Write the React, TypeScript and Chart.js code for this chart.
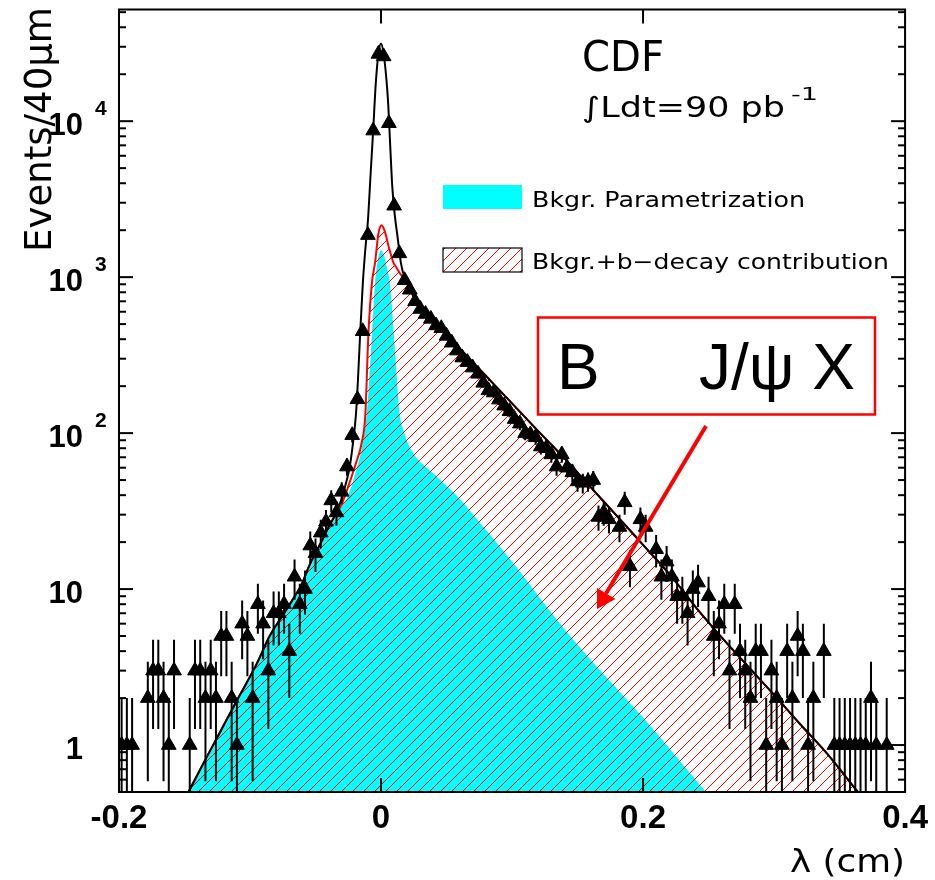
import React, { useEffect, useRef } from 'react';
import { Chart, registerables } from 'chart.js';

Chart.register(...registerables);

// ---------- Axis ticks ----------
const xTickValues = [-0.2, 0, 0.2, 0.4];
const xTickLabels = ['-0.2', '0', '0.2', '0.4'];
const yTickValues = [1, 10, 100, 1000, 10000];
const yTickMantissa = ['1', '10', '10', '10', '10'];
const yTickExponent = ['', '', '2', '3', '4'];

// ---------- Texts ----------
const yTitle = 'Events/40\u03bcm';
const xTitle = '\u03bb (cm)';
const expLabel = 'CDF';
const lumiLabel = '\u222bLdt=90 pb';
const lumiExp = '-1';
const legendBkg = 'Bkgr. Parametrization';
const legendBkgB = 'Bkgr.+b\u2212decay contribution';
const boxLeft = 'B';
const boxRight = 'J/\u03c8 X';

// ---------- Data points: lambda (cm), events per 40 um ----------
const dataLambda = [
  -0.198, -0.194, -0.190, -0.178, -0.174, -0.170, -0.166, -0.162, -0.158,
  -0.146, -0.142, -0.138, -0.134, -0.130, -0.126, -0.122, -0.118, -0.114,
  -0.110, -0.106, -0.102, -0.098, -0.094, -0.090, -0.086, -0.082, -0.078,
  -0.074, -0.070, -0.066, -0.062, -0.058, -0.054, -0.050, -0.046, -0.042,
  -0.038, -0.034, -0.030, -0.026, -0.022, -0.018, -0.014, -0.010, -0.006,
  -0.002, 0.002, 0.006, 0.010, 0.014, 0.018, 0.022, 0.026, 0.030, 0.034,
  0.038, 0.042, 0.046, 0.050, 0.054, 0.058, 0.062, 0.066, 0.070, 0.074,
  0.078, 0.082, 0.086, 0.090, 0.094, 0.098, 0.102, 0.106, 0.110, 0.114,
  0.118, 0.122, 0.126, 0.130, 0.134, 0.138, 0.142, 0.146, 0.150, 0.154,
  0.158, 0.162, 0.166, 0.170, 0.174, 0.182, 0.186, 0.190, 0.198, 0.202,
  0.210, 0.214, 0.218, 0.222, 0.226, 0.230, 0.234, 0.238, 0.242, 0.250,
  0.254, 0.258, 0.262, 0.266, 0.270, 0.274, 0.278, 0.282, 0.286, 0.290,
  0.294, 0.298, 0.302, 0.306, 0.310, 0.314, 0.318, 0.322, 0.326, 0.330,
  0.338, 0.346, 0.350, 0.354, 0.358, 0.362, 0.366, 0.370, 0.374, 0.378,
  0.386,
];
const dataCounts = [
  1, 1, 1, 2, 3, 3, 2, 1, 3,
  1, 3, 3, 2, 3, 2, 5, 5, 2,
  1, 6, 5, 2, 8, 6, 3, 7, 7,
  8, 4, 12, 8, 10, 19, 17, 23, 27,
  37, 31, 42, 61, 97, 165, 450, 1860, 8700,
  27000, 26000, 9700, 2870, 1420, 955, 830, 700, 625, 580,
  540, 490, 470, 420, 380, 338, 305, 285, 263, 240,
  210, 188, 182, 164, 150, 138, 123, 115, 100, 98,
  94, 82, 80, 73, 61, 73, 60, 56, 49, 48,
  49, 50, 29, 31, 28, 25, 36, 14, 28, 25,
  18, 12, 15, 12, 9, 9, 7, 10, 11, 9,
  5, 6, 8, 3, 8, 4, 3, 2, 4, 4,
  1, 3, 2, 1, 4, 2, 5, 4, 1, 2,
  4, 1, 1, 1, 1, 1, 1, 1, 2, 1,
  1,
];

// ---------- Total fit (black line) ----------
const totalFitLambda = [
  -0.147, -0.135, -0.122, -0.110, -0.095, -0.085, -0.075, -0.068, -0.060,
  -0.055, -0.050, -0.045, -0.040, -0.035, -0.030, -0.027, -0.024, -0.0215,
  -0.0192, -0.0177, -0.0159, -0.0139, -0.012, -0.010, -0.008, -0.006, -0.004,
  -0.002, 0, 0.002, 0.004, 0.0055, 0.007, 0.0086, 0.0105, 0.0126, 0.0152,
  0.0177, 0.022, 0.026, 0.030, 0.040, 0.050, 0.060, 0.070, 0.080, 0.090,
  0.100, 0.120, 0.140, 0.160, 0.180, 0.200, 0.220, 0.240, 0.260, 0.280,
  0.300, 0.320, 0.340, 0.364,
];
const totalFitEvents = [
  0.5, 0.78, 1.25, 1.93, 3.3, 5.0, 6.8, 8.4, 11,
  14, 17, 20.5, 25, 30, 38, 47, 60, 85,
  130, 211, 440, 910, 1500, 2300, 4500, 8700, 17500,
  27000, 31500, 27000, 19000, 12800, 7000, 3800, 2500, 1820, 1230,
  1010, 840, 720, 640, 523, 427, 349, 285, 233, 190,
  155, 103, 69, 45, 29.5, 19.2, 12.5, 7.7, 4.9, 3.2,
  2.1, 1.36, 0.89, 0.5,
];

// ---------- Bkgr. + b-decay contribution (red hatched) ----------
const bkgBLambda = [
  -0.147, -0.135, -0.122, -0.110, -0.095, -0.085, -0.075, -0.068, -0.060,
  -0.055, -0.050, -0.045, -0.040, -0.035, -0.030, -0.026, -0.0197, -0.0147,
  -0.012, -0.0096, -0.007, -0.0045, -0.002, 0.0005, 0.003, 0.006, 0.0093,
  0.0118, 0.0144, 0.018, 0.022, 0.026, 0.030, 0.040, 0.050, 0.060, 0.070,
  0.080, 0.090, 0.100, 0.120, 0.140, 0.160, 0.180, 0.200, 0.220, 0.240,
  0.260, 0.280, 0.300, 0.320, 0.340, 0.364,
];
const bkgBEvents = [
  0.5, 0.78, 1.25, 1.93, 3.3, 5.0, 6.8, 8.4, 11,
  14, 17, 20.5, 25, 29.5, 35, 43, 62, 87,
  130, 440, 910, 1250, 1900, 2150, 1950, 1550, 1250,
  1150, 1060, 960, 840, 720, 640, 523, 427, 349, 285,
  233, 190, 155, 103, 69, 45, 29.5, 19.2, 12.5, 7.7,
  4.9, 3.2, 2.1, 1.36, 0.89, 0.5,
];

// ---------- Bkgr. parametrization (cyan) ----------
const bkgLambda = [
  -0.147, -0.135, -0.122, -0.110, -0.095, -0.085, -0.075, -0.068, -0.060,
  -0.055, -0.050, -0.045, -0.040, -0.035, -0.030, -0.025, -0.0197, -0.015,
  -0.011, -0.0076, -0.0046, -0.002, 0, 0.002, 0.0045, 0.0068, 0.0106,
  0.0144, 0.017, 0.020, 0.028, 0.036, 0.041, 0.060, 0.080, 0.100, 0.127,
  0.150, 0.200, 0.248,
];
const bkgEvents = [
  0.5, 0.78, 1.25, 1.93, 3.3, 5.0, 6.8, 8.4, 11,
  13.5, 16.5, 20, 24, 28.5, 34, 40, 55, 78,
  130, 345, 910, 1350, 1490, 1400, 1150, 910, 345,
  130, 105, 88, 68, 59, 54, 38, 24, 15, 7.6,
  4.4, 1.5, 0.5,
];

function toXY(xs: number[], ys: number[]) {
  return xs.map((x, i) => ({ x, y: ys[i] }));
}

function makeHatch(ctx: CanvasRenderingContext2D): CanvasPattern {
  const s = 11;
  const c = document.createElement('canvas');
  c.width = s;
  c.height = s;
  const g = c.getContext('2d') as CanvasRenderingContext2D;
  g.strokeStyle = '#ff0000';
  g.lineWidth = 1;
  for (let k = -1; k <= 1; k++) {
    g.beginPath();
    g.moveTo(k * s - 1, s + 1);
    g.lineTo(k * s + s + 1, -1);
    g.stroke();
  }
  return ctx.createPattern(c, 'repeat') as CanvasPattern;
}

function fitText(ctx: CanvasRenderingContext2D, text: string, x: number, y: number, width: number) {
  ctx.save();
  ctx.textAlign = 'left';
  ctx.textBaseline = 'alphabetic';
  const w0 = ctx.measureText(text).width;
  ctx.translate(x, y);
  ctx.scale(width / w0, 1);
  ctx.fillText(text, 0, 0);
  ctx.restore();
}

export default function App() {
  const canvasRef = useRef<HTMLCanvasElement | null>(null);

  useEffect(() => {
    const canvas = canvasRef.current;
    if (!canvas) return;
    const ctx0 = canvas.getContext('2d') as CanvasRenderingContext2D;
    const hatch = makeHatch(ctx0);

    const errorBarPlugin = {
      id: 'errorBars',
      beforeDatasetDraw(chart: any, args: any) {
        if (args.index !== 0) return;
        const { ctx, chartArea: ca, scales } = chart;
        const xs = scales.x;
        const ys = scales.y;
        ctx.save();
        ctx.beginPath();
        ctx.rect(ca.left, ca.top, ca.right - ca.left, ca.bottom - ca.top);
        ctx.clip();
        ctx.strokeStyle = '#000';
        ctx.lineWidth = 2;
        dataLambda.forEach((l, i) => {
          const n = dataCounts[i];
          const e = Math.sqrt(n);
          const px = xs.getPixelForValue(l);
          const lo = n - e;
          const yLo = lo > 0 ? ys.getPixelForValue(lo) : ca.bottom;
          const yHi = ys.getPixelForValue(n + e);
          ctx.beginPath();
          ctx.moveTo(px, yLo);
          ctx.lineTo(px, yHi);
          ctx.stroke();
        });
        ctx.restore();
      },
    };

    const decorPlugin = {
      id: 'decor',
      afterDraw(chart: any) {
        const { ctx, chartArea: ca, scales } = chart;
        const xs = scales.x;
        const ys = scales.y;
        const line = (x1: number, y1: number, x2: number, y2: number) => {
          ctx.beginPath();
          ctx.moveTo(x1, y1);
          ctx.lineTo(x2, y2);
          ctx.stroke();
        };
        ctx.save();
        ctx.strokeStyle = '#000';
        ctx.lineWidth = 2;
        // y ticks (major + minor), both sides, inward
        for (let d = -1; d <= 4; d++) {
          for (let k = 1; k <= 9; k++) {
            const v = k * Math.pow(10, d);
            if (v < ys.min || v > ys.max) continue;
            const py = ys.getPixelForValue(v);
            const len = k === 1 ? 14 : 7;
            line(ca.left, py, ca.left + len, py);
            line(ca.right - len, py, ca.right, py);
          }
        }
        // x ticks top and bottom
        xTickValues.forEach((v) => {
          const px = xs.getPixelForValue(v);
          if (px <= ca.left + 2 || px >= ca.right - 2) return;
          line(px, ca.top, px, ca.top + 14);
          line(px, ca.bottom - 14, px, ca.bottom);
        });
        // frame
        ctx.strokeRect(ca.left, ca.top, ca.right - ca.left, ca.bottom - ca.top);

        // y tick labels with superscripts
        ctx.fillStyle = '#000';
        yTickValues.forEach((v, i) => {
          const py = ys.getPixelForValue(v);
          ctx.font = 'bold 31px "Liberation Sans", Arial, sans-serif';
          ctx.textAlign = 'right';
          ctx.textBaseline = 'alphabetic';
          ctx.fillText(yTickMantissa[i], 83, py + 14);
          if (yTickExponent[i]) {
            ctx.font = 'bold 21px "Liberation Sans", Arial, sans-serif';
            ctx.textAlign = 'left';
            ctx.fillText(yTickExponent[i], 95, py + 14 - 20.5);
          }
        });

        // y title (rotated)
        ctx.save();
        ctx.font = '37px "DejaVu Sans", sans-serif';
        ctx.translate(51, 252);
        ctx.rotate(-Math.PI / 2);
        fitText(ctx, yTitle, 0, 0, 245);
        ctx.restore();

        // x title
        ctx.font = '32px "DejaVu Sans", sans-serif';
        fitText(ctx, xTitle, 790, 871.5, 115);

        // CDF and luminosity
        ctx.font = '42px "DejaVu Sans", sans-serif';
        fitText(ctx, expLabel, 582, 70.7, 82);
        ctx.font = '28px "DejaVu Sans", sans-serif';
        fitText(ctx, lumiLabel, 582, 117.3, 203);
        ctx.font = '17px "DejaVu Sans", sans-serif';
        fitText(ctx, lumiExp, 791, 100, 27);

        // legend
        ctx.fillStyle = '#00ffff';
        ctx.fillRect(443, 185, 79, 24);
        ctx.fillStyle = hatch;
        ctx.fillRect(443, 248, 79, 24);
        ctx.strokeStyle = '#000';
        ctx.lineWidth = 1.2;
        ctx.strokeRect(443, 248, 79, 24);
        ctx.fillStyle = '#000';
        ctx.font = '21px "DejaVu Sans", sans-serif';
        fitText(ctx, legendBkg, 532, 207.3, 273);
        fitText(ctx, legendBkgB, 532, 269.3, 357);

        // annotation box
        ctx.strokeStyle = '#ff0000';
        ctx.lineWidth = 2.5;
        ctx.strokeRect(538, 317.5, 337, 97);
        ctx.fillStyle = '#000';
        ctx.font = '64px "Liberation Sans", Arial, sans-serif';
        ctx.textAlign = 'left';
        ctx.textBaseline = 'alphabetic';
        ctx.fillText(boxLeft, 557, 389.3);
        ctx.fillText(boxRight, 699, 389.3);

        // red arrow
        ctx.strokeStyle = '#ff0000';
        ctx.lineWidth = 4;
        line(706, 426, 606, 593.5);
        ctx.fillStyle = '#ff0000';
        ctx.beginPath();
        ctx.moveTo(597, 609);
        ctx.lineTo(615.5, 599);
        ctx.lineTo(597, 588);
        ctx.closePath();
        ctx.fill();
        ctx.restore();
      },
    };

    const chart = new Chart(canvas, {
      type: 'line',
      data: {
        datasets: [
          {
            label: 'Data',
            data: toXY(dataLambda, dataCounts),
            showLine: false,
            pointStyle: 'triangle',
            pointRadius: 8.5,
            pointBackgroundColor: '#000',
            pointBorderColor: '#000',
            pointBorderWidth: 1,
            clip: 0,
          },
          {
            label: 'Total fit',
            data: toXY(totalFitLambda, totalFitEvents),
            borderColor: '#000',
            borderWidth: 2,
            pointRadius: 0,
            fill: false,
            cubicInterpolationMode: 'monotone',
            clip: 0,
          },
          {
            label: 'Bkgr.+b-decay contribution',
            data: toXY(bkgBLambda, bkgBEvents),
            borderColor: '#ff0000',
            borderWidth: 2,
            pointRadius: 0,
            fill: 'start',
            backgroundColor: hatch,
            cubicInterpolationMode: 'monotone',
            clip: 0,
          },
          {
            label: 'Bkgr. Parametrization',
            data: toXY(bkgLambda, bkgEvents),
            borderColor: 'rgba(0,0,0,0)',
            borderWidth: 0,
            pointRadius: 0,
            fill: 'start',
            backgroundColor: '#00ffff',
            cubicInterpolationMode: 'monotone',
            clip: 0,
          },
        ],
      } as any,
      options: {
        responsive: false,
        animation: false,
        events: [],
        layout: { padding: { top: 4, right: 25, left: 0, bottom: 0 } },
        plugins: {
          legend: { display: false },
          tooltip: { enabled: false },
          title: { display: false },
        },
        scales: {
          x: {
            type: 'linear',
            position: 'bottom',
            min: -0.2,
            max: 0.4,
            grid: { display: false, drawTicks: false },
            border: { display: false },
            afterBuildTicks: (s: any) => {
              s.ticks = xTickValues.map((v) => ({ value: v }));
            },
            afterFit: (s: any) => {
              s.height = 88;
            },
            ticks: {
              autoSkip: false,
              maxRotation: 0,
              minRotation: 0,
              padding: 7,
              color: '#000',
              font: { family: '"Liberation Sans", Arial, sans-serif', size: 33, weight: 'bold' },
              callback: (v: any) => {
                const i = xTickValues.findIndex((t) => Math.abs(t - Number(v)) < 1e-9);
                return i >= 0 ? xTickLabels[i] : '';
              },
            },
          },
          y: {
            type: 'logarithmic',
            min: 0.5,
            max: 52000,
            grid: { display: false, drawTicks: false },
            border: { display: false },
            ticks: { display: false },
            afterFit: (s: any) => {
              s.width = 119;
            },
          },
        },
      } as any,
      plugins: [errorBarPlugin, decorPlugin],
    });

    return () => {
      chart.destroy();
    };
  }, []);

  return (
    <div style={{ position: 'fixed', left: 0, top: 0, width: 935, height: 880, background: '#fff' }}>
      <canvas ref={canvasRef} width={935} height={880} style={{ display: 'block' }} />
    </div>
  );
}
